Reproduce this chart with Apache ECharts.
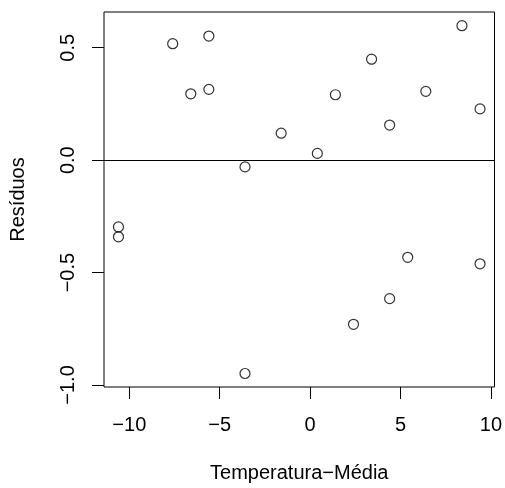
<!DOCTYPE html>
<html>
<head>
<meta charset="utf-8">
<script src="https://cdn.jsdelivr.net/npm/echarts@6/dist/echarts.min.js"></script>
<style>html,body{margin:0;padding:0;background:#fff}#c{width:505px;height:488px}</style>
</head>
<body>
<div id="c"></div>
<script>
const temperatura = [-7.6, -5.6, -6.6, -5.6, 8.4, 3.4, 1.4, 6.4, 9.4, 4.4, -1.6, 0.4, -3.6, -10.6, -10.6, 5.4, 9.4, 4.4, 2.4, -3.6];
const residuos = [0.518, 0.552, 0.295, 0.315, 0.598, 0.449, 0.291, 0.306, 0.228, 0.156, 0.120, 0.030, -0.030, -0.297, -0.341, -0.432, -0.461, -0.616, -0.730, -0.949];
const xTicks = [-10, -5, 0, 5, 10];
const yTicks = [-1.0, -0.5, 0.0, 0.5];
const xTitle = 'Temperatura\u2212Média';
const yTitle = 'Resíduos';

const FONT = 'Liberation Sans, Arial, Helvetica, sans-serif';
const FS = 20;
const minus = s => String(s).replace('-', '\u2212');

const chart = echarts.init(document.getElementById('c'), null, {renderer: 'canvas'});
chart.setOption({
  animation: false,
  backgroundColor: '#fff',
  grid: {left: 103, right: 9, top: 12, bottom: 101, show: true, borderColor: '#000', borderWidth: 1, backgroundColor: 'transparent'},
  xAxis: {
    type: 'value', min: -11.4, max: 10.2,
    axisLine: {show: false, onZero: false},
    splitLine: {show: false},
    axisTick: {show: true, inside: false, length: 12, customValues: xTicks, lineStyle: {color: '#000', width: 1}},
    axisLabel: {customValues: xTicks, margin: 28, color: '#000', fontSize: FS, fontFamily: FONT, formatter: v => minus(v)},
    name: xTitle, nameLocation: 'middle', nameGap: 76,
    nameTextStyle: {color: '#000', fontSize: FS, fontFamily: FONT}
  },
  yAxis: {
    type: 'value', min: -1.009, max: 0.659,
    axisLine: {show: false, onZero: false},
    splitLine: {show: false},
    axisTick: {show: true, inside: false, length: 12, customValues: yTicks, lineStyle: {color: '#000', width: 1}},
    axisLabel: {customValues: yTicks, margin: 26, rotate: 90, color: '#000', fontSize: FS, fontFamily: FONT, formatter: v => minus(v.toFixed(1))},
    name: yTitle, nameLocation: 'middle', nameGap: 76, nameRotate: 90,
    nameTextStyle: {color: '#000', fontSize: FS, fontFamily: FONT}
  },
  series: [{
    type: 'scatter',
    data: temperatura.map((x, i) => [x, residuos[i]]),
    symbol: 'circle', symbolSize: 10,
    itemStyle: {color: 'rgba(0,0,0,0)', borderColor: '#000', borderWidth: 1.2},
    markLine: {
      silent: true, symbol: ['none', 'none'], label: {show: false},
      lineStyle: {color: '#000', width: 1, type: 'solid'},
      data: [{yAxis: 0}]
    }
  }]
});
</script>
</body>
</html>
